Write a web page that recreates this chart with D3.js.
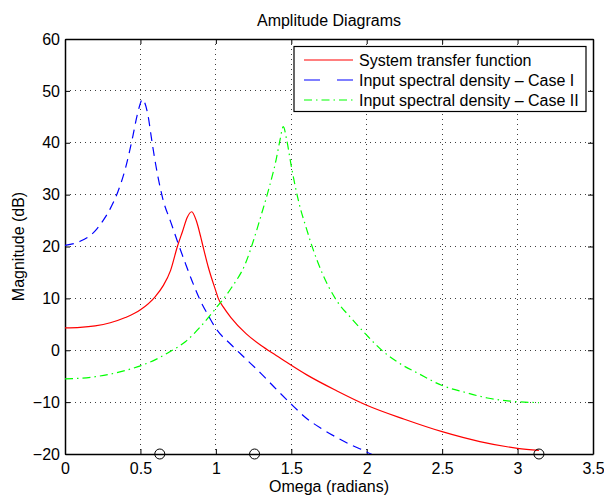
<!DOCTYPE html>
<html><head><meta charset="utf-8">
<script src="https://cdn.jsdelivr.net/npm/d3@7"></script>
<style>
body{margin:0;background:#fff;}
svg{display:block;font-family:"Liberation Sans",Arial,Helvetica,sans-serif;}
</style></head>
<body>
<svg id="chart" width="604" height="495"></svg>
<script>
// Data
const xTicks = [0, 0.5, 1, 1.5, 2, 2.5, 3, 3.5];
const yTicks = [-20, -10, 0, 10, 20, 30, 40, 50, 60];

const sysOmega = [0,0.1,0.2,0.3,0.4,0.5,0.6,0.65,0.7,0.745,0.78,0.81,0.84,0.87,0.9,0.915,0.95,1.0,1.016,1.05,1.1,1.2,1.3,1.4,1.5,1.6,1.8,2.0,2.25,2.5,2.75,3.0,3.1416];
const sysDb    = [4.3,4.4,4.7,5.3,6.3,7.8,10.4,12.4,15.4,20.0,23.0,25.6,26.7,25.0,21.8,20.0,16.0,11.4,10.0,8.3,6.3,3.2,0.9,-1.0,-2.9,-4.7,-7.8,-10.6,-13.3,-15.7,-17.6,-18.9,-19.3];

const case1Omega = [0,0.1,0.2,0.25,0.3,0.35,0.4,0.45,0.48,0.515,0.53,0.55,0.575,0.6,0.65,0.7,0.75,0.8,0.85,0.9,0.95,1.0,1.1,1.2,1.3,1.4,1.5,1.6,1.7,1.8,1.9,2.0,2.05];
const case1Db    = [20.2,21.0,23.0,24.9,27.3,30.5,35.0,41.3,45.5,48.4,47.6,45.3,40.5,36.0,29.0,24.8,20.6,16.6,12.8,9.4,6.7,4.2,1.1,-1.7,-4.5,-7.5,-10.4,-13.1,-15.1,-16.8,-18.3,-19.6,-20.3];

const case2Omega = [0,0.1,0.2,0.3,0.4,0.5,0.6,0.7,0.8,0.9,1.0,1.1,1.2,1.25,1.3,1.35,1.4,1.425,1.447,1.47,1.5,1.55,1.6,1.65,1.7,1.8,1.9,2.0,2.1,2.2,2.35,2.5,2.65,2.8,2.95,3.1416];
const case2Db    = [-5.5,-5.4,-5.1,-4.6,-3.9,-3.0,-1.8,-0.2,1.7,4.6,8.1,11.9,17.0,21.2,26.0,31.0,36.8,40.5,43.1,40.5,35.5,28.5,23.5,19.0,15.2,9.6,6.1,2.9,0.0,-2.2,-4.6,-6.8,-8.1,-9.2,-9.8,-10.1];

const markerOmega = [0.6283, 1.2566, 3.1416];
const markerDb = [-20, -20, -20];

const seriesNames = ["System transfer function", "Input spectral density \u2013 Case I", "Input spectral density \u2013 Case II"];
const seriesColors = ["#ff0000", "#0000ff", "#00ff00"];
const seriesDash = [null, "9,6", "8,4,1.5,4"];

const title = "Amplitude Diagrams";
const xLabel = "Omega (radians)";
const yLabel = "Magnitude (dB)";

// Layout
const L = 65, R = 593, T = 39, B = 454;
const FS = 16;
const svg = d3.select("#chart");
const x = d3.scaleLinear().domain([0, 3.5]).range([L, R]);
const y = d3.scaleLinear().domain([-20, 60]).range([B, T]);

svg.append("defs").append("clipPath").attr("id","clip")
  .append("rect").attr("x",L).attr("y",T).attr("width",R-L).attr("height",B-T);

// grid
const grid = svg.append("g");
grid.selectAll("line.gx").data(xTicks.slice(1,-1)).enter().append("line")
  .attr("x1",d=>x(d)).attr("x2",d=>x(d)).attr("y1",T).attr("y2",B)
  .attr("stroke","#000").attr("stroke-width",1).attr("stroke-dasharray","1,4").attr("opacity",0.75)
  .attr("shape-rendering","crispEdges");
grid.selectAll("line.gy").data(yTicks.slice(1,-1)).enter().append("line")
  .attr("y1",d=>y(d)).attr("y2",d=>y(d)).attr("x1",L).attr("x2",R)
  .attr("stroke","#000").attr("stroke-width",1).attr("stroke-dasharray","1,4").attr("opacity",0.75)
  .attr("shape-rendering","crispEdges");

// axes with inward ticks on all sides
const fmt = d => (d < 0 ? "\u2212" + Math.abs(d) : String(d));
const axB = svg.append("g").attr("transform",`translate(0,${B})`)
  .call(d3.axisBottom(x).tickValues(xTicks).tickSizeInner(-5).tickSizeOuter(0).tickPadding(9).tickFormat(fmt));
const axT = svg.append("g").attr("transform",`translate(0,${T})`)
  .call(d3.axisTop(x).tickValues(xTicks).tickSizeInner(-5).tickSizeOuter(0).tickFormat(""));
const axL = svg.append("g").attr("transform",`translate(${L},0)`)
  .call(d3.axisLeft(y).tickValues(yTicks).tickSizeInner(-5).tickSizeOuter(0).tickPadding(5).tickFormat(fmt));
const axR = svg.append("g").attr("transform",`translate(${R},0)`)
  .call(d3.axisRight(y).tickValues(yTicks).tickSizeInner(-5).tickSizeOuter(0).tickFormat(""));
[axB,axT,axL,axR].forEach(a=>{
  a.selectAll("path").attr("stroke","#000").attr("stroke-width",1.5);
  a.selectAll("line").attr("stroke","#000");
  a.selectAll("text").attr("font-size",FS).attr("fill","#000")
   .attr("font-family","'Liberation Sans',Arial,Helvetica,sans-serif");
});

// lines
const seriesData = [
  sysOmega.map((w,i)=>[w, sysDb[i]]),
  case1Omega.map((w,i)=>[w, case1Db[i]]),
  case2Omega.map((w,i)=>[w, case2Db[i]])
];
const line = d3.line().x(d=>x(d[0])).y(d=>y(d[1])).curve(d3.curveMonotoneX);
const plot = svg.append("g").attr("clip-path","url(#clip)");
seriesData.forEach((s,i)=>{
  plot.append("path").datum(s).attr("d",line).attr("fill","none")
    .attr("stroke",seriesColors[i]).attr("stroke-width",1.2)
    .attr("stroke-dasharray",seriesDash[i]);
});

// markers
svg.selectAll("circle.m").data(markerOmega).enter().append("circle")
  .attr("cx",d=>x(d)).attr("cy",(d,i)=>y(markerDb[i])).attr("r",5)
  .attr("fill","none").attr("stroke","#000").attr("stroke-width",1);

// legend
const lg = svg.append("g");
lg.append("rect").attr("x",294).attr("y",46.5).attr("width",292).attr("height",65)
  .attr("fill","#fff").attr("stroke","#000").attr("stroke-width",1.2);
seriesNames.forEach((n,i)=>{
  const yy = 60 + i*20;
  lg.append("line").attr("x1",304).attr("x2",353).attr("y1",yy).attr("y2",yy)
    .attr("stroke",seriesColors[i]).attr("stroke-width",1.2)
    .attr("stroke-dasharray", i===1 ? "16,17" : (i===2 ? "8,4,1.5,4" : null));
  lg.append("text").attr("x",359).attr("y",yy+6).attr("font-size",FS).text(n);
});

// titles
svg.append("text").attr("x",(L+R)/2).attr("y",26).attr("text-anchor","middle").attr("font-size",FS).text(title);
svg.append("text").attr("x",(L+R)/2).attr("y",492).attr("text-anchor","middle").attr("font-size",FS).text(xLabel);
svg.append("text").attr("transform",`translate(24,${(T+B)/2}) rotate(-90)`).attr("text-anchor","middle").attr("font-size",FS).text(yLabel);
</script>
</body></html>
